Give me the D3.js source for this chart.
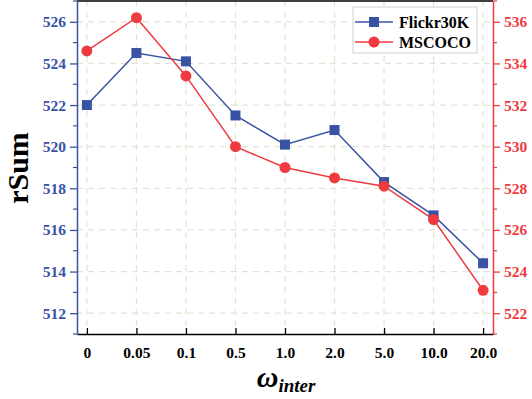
<!DOCTYPE html>
<html><head><meta charset="utf-8">
<script src="https://cdn.jsdelivr.net/npm/d3@7"></script>
<style>body{margin:0;background:#fff}svg{display:block}</style>
</head><body><svg id="c" width="532" height="399"></svg>
<script>
const categories = ["0","0.05","0.1","0.5","1.0","2.0","5.0","10.0","20.0"];
const flickr = [522.0, 524.5, 524.1, 521.5, 520.1, 520.8, 518.3, 516.7, 514.4];
const mscoco = [534.6, 536.2, 533.4, 530.0, 529.0, 528.5, 528.1, 526.5, 523.1];
const leftTicks = [512,514,516,518,520,522,524,526];
const rightTicks = [522,524,526,528,530,532,534,536];
const seriesNames = ["Flickr30K","MSCOCO"];

const W=532,H=399, L=77, R=493, T=1, B=334;
const blue="#3953a4", red="#ef3b3f", grid="#e3e3d3";
const font="'Liberation Serif','Times New Roman',serif";
const svg=d3.select("#c");
const x=d3.scalePoint().domain(categories).range([L,R]).padding(0.2);
const yl=d3.scaleLinear().domain([511,527]).range([B,T]);
const yr=d3.scaleLinear().domain([521,537]).range([B,T]);

// grid
const g=svg.append("g");
g.selectAll("line.h").data(leftTicks).join("line")
 .attr("x1",L).attr("x2",R).attr("y1",d=>yl(d)).attr("y2",d=>yl(d))
 .attr("stroke",grid).attr("stroke-width",1.2).attr("stroke-dasharray","6,5");
g.selectAll("line.v").data(categories).join("line")
 .attr("x1",d=>x(d)).attr("x2",d=>x(d)).attr("y1",T).attr("y2",B)
 .attr("stroke",grid).attr("stroke-width",1.2).attr("stroke-dasharray","6,5");

// top border
svg.append("line").attr("x1",L).attr("x2",R).attr("y1",T).attr("y2",T).attr("stroke","#000").attr("stroke-width",1.5);

// bottom axis
const xa=svg.append("g").attr("transform",`translate(0,${B})`)
 .call(d3.axisBottom(x).tickSizeInner(-6).tickSizeOuter(0).tickPadding(13));
xa.select(".domain").attr("stroke","#000").attr("stroke-width",1.5);
xa.selectAll(".tick line").attr("stroke","#000").attr("stroke-width",1.3);
xa.selectAll("text").attr("font-family",font).attr("font-weight","bold").attr("font-size",15.5).attr("fill","#000");

// left axis
const minorL=d3.range(511,528,1).filter(v=>v%2===1);
const la=svg.append("g").attr("transform",`translate(${L},0)`)
 .call(d3.axisLeft(yl).tickValues(leftTicks).tickSize(7).tickSizeOuter(0).tickPadding(4).tickFormat(d3.format("d")));
la.select(".domain").attr("stroke",blue).attr("stroke-width",1.5);
la.selectAll(".tick line").attr("stroke",blue).attr("stroke-width",1.3);
la.selectAll("text").attr("font-family",font).attr("font-weight","bold").attr("font-size",15.5).attr("fill",blue);
la.selectAll("line.minor").data(minorL).join("line").attr("class","minor")
 .attr("x1",0).attr("x2",-4).attr("y1",d=>yl(d)).attr("y2",d=>yl(d)).attr("stroke",blue).attr("stroke-width",1.2);

// right axis
const minorR=d3.range(521,538,1).filter(v=>v%2===1);
const ra=svg.append("g").attr("transform",`translate(${R},0)`)
 .call(d3.axisRight(yr).tickValues(rightTicks).tickSize(7).tickSizeOuter(0).tickPadding(4).tickFormat(d3.format("d")));
ra.select(".domain").attr("stroke",red).attr("stroke-width",1.5);
ra.selectAll(".tick line").attr("stroke",red).attr("stroke-width",1.3);
ra.selectAll("text").attr("font-family",font).attr("font-weight","bold").attr("font-size",15.5).attr("fill",red);
ra.selectAll("line.minor").data(minorR).join("line").attr("class","minor")
 .attr("x1",0).attr("x2",4).attr("y1",d=>yr(d)).attr("y2",d=>yr(d)).attr("stroke",red).attr("stroke-width",1.2);

// lines
const lineL=d3.line().x((d,i)=>x(categories[i])).y(d=>yl(d));
const lineR=d3.line().x((d,i)=>x(categories[i])).y(d=>yr(d));
svg.append("path").attr("d",lineL(flickr)).attr("fill","none").attr("stroke",blue).attr("stroke-width",1.5);
svg.append("path").attr("d",lineR(mscoco)).attr("fill","none").attr("stroke",red).attr("stroke-width",1.5);
const sq=10;
svg.selectAll("rect.m").data(flickr).join("rect").attr("class","m")
 .attr("x",(d,i)=>x(categories[i])-sq/2).attr("y",d=>yl(d)-sq/2).attr("width",sq).attr("height",sq).attr("fill",blue);
svg.selectAll("circle.m").data(mscoco).join("circle").attr("class","m")
 .attr("cx",(d,i)=>x(categories[i])).attr("cy",d=>yr(d)).attr("r",5.5).attr("fill",red);

// legend
const lg=svg.append("g");
lg.append("rect").attr("x",353).attr("y",7).attr("width",124).attr("height",46).attr("fill","#fff").attr("stroke","#d0d0d0").attr("stroke-width",1);
const rows=[{n:seriesNames[0],c:blue,y:22,m:"sq"},{n:seriesNames[1],c:red,y:42,m:"ci"}];
rows.forEach(r=>{
  lg.append("line").attr("x1",355).attr("x2",393).attr("y1",r.y).attr("y2",r.y).attr("stroke",r.c).attr("stroke-width",1.5);
  if(r.m==="sq") lg.append("rect").attr("x",374-5).attr("y",r.y-5).attr("width",10).attr("height",10).attr("fill",r.c);
  else lg.append("circle").attr("cx",374).attr("cy",r.y).attr("r",5.5).attr("fill",r.c);
  lg.append("text").attr("x",399).attr("y",r.y+5.5).text(r.n).attr("font-family",font).attr("font-weight","bold").attr("font-size",16).attr("fill","#000");
});

// axis titles
svg.append("text").attr("transform","translate(28,168) rotate(-90)").attr("text-anchor","middle")
 .attr("font-family",font).attr("font-weight","bold").attr("font-size",30).text("rSum");
const xt=svg.append("text").attr("x",286).attr("y",387).attr("text-anchor","middle").attr("font-family",font).attr("font-weight","bold").attr("font-style","italic");
xt.append("tspan").attr("font-size",30).text("ω");
xt.append("tspan").attr("font-size",19).attr("dy",5).text("inter");
</script></body></html>
